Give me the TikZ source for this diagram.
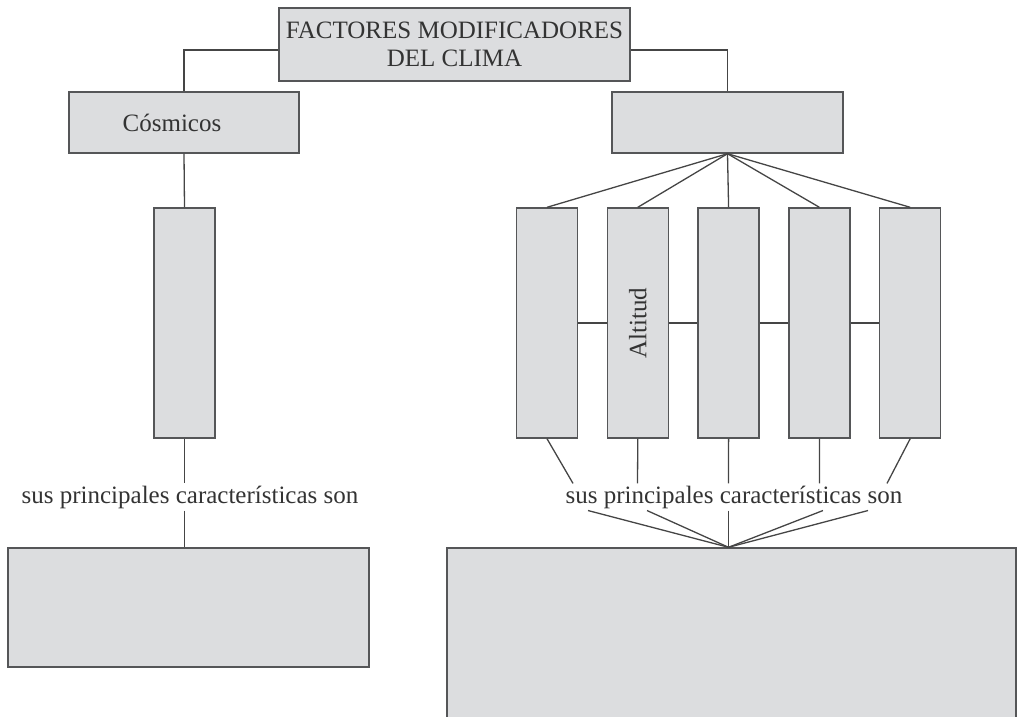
\documentclass[tikz,border=0pt]{standalone}
\usepackage{fontspec}
\setmainfont{Liberation Serif}
\usepackage{graphicx}
\usepackage{xcolor}
\usepackage{tikz}
\usetikzlibrary{positioning}
\definecolor{boxgray}{HTML}{DCDDDF}
\definecolor{edgegray}{HTML}{555658}
\definecolor{linkgray}{HTML}{454545}
\definecolor{inkgray}{HTML}{333333}
\tikzset{
    link/.style={draw=linkgray, line width=1.3pt},
    box/.style={draw=edgegray, line width=1.4pt, fill=boxgray, rectangle, inner sep=0pt, align=center, text=inkgray, font=\fontsize{25}{28.5}\selectfont},
    tallbox/.style={box, minimum width=61pt, minimum height=230pt},
    captext/.style={inner sep=2pt, anchor=base, text=inkgray, font=\fontsize{25}{28.5}\selectfont}
}

\begin{document}
\begin{tikzpicture}[x=1pt, y=-1pt]
    \useasboundingbox (0,0) rectangle (1018,717);
    \clip (0,0) rectangle (1018,717);
    % top and first level
    \node (top) [box, minimum width=351pt, minimum height=73pt] at (454.5,44.5) {FACTORES MODIFICADORES\\DEL CLIMA};
    \node (cos) [box, minimum width=230pt, minimum height=61pt] at (184,122.5) {Cósmicos\hspace*{24pt}};
    \node (rfac) [box, minimum width=231pt, minimum height=61pt] at (727.5,122.5) {};
    % tall boxes
    \node (lt) [tallbox] at (184.5,323) {};
    \node (t1) [tallbox] at (547,323) {};
    \node (t2) [tallbox, right=28.4pt of t1] {\rotatebox{90}{Altitud}};
    \node (t3) [tallbox, right=28.4pt of t2] {};
    \node (t4) [tallbox, right=28.4pt of t3] {};
    \node (t5) [tallbox, right=28.4pt of t4] {};
    % texts and bottom boxes
    \node (lsus) [captext] at (190,503) {sus principales características son};
    \node (rsus) [captext] at (734,503) {sus principales características son};
    \node (lbox) [box, minimum width=361pt, minimum height=119pt] at (188.5,607.5) {};
    \node (rbox) [box, minimum width=569pt, minimum height=192pt] at (731.5,644) {};
    \coordinate (u1) at (573,0 |- rsus.north);
    \coordinate (u2) at (637.5,0 |- rsus.north);
    \coordinate (u3) at (728.5,0 |- rsus.north);
    \coordinate (u4) at (819.5,0 |- rsus.north);
    \coordinate (u5) at (887,0 |- rsus.north);
    \coordinate (d1) at (588,0 |- rsus.south);
    \coordinate (d2) at (647,0 |- rsus.south);
    \coordinate (d3) at (728.5,0 |- rsus.south);
    \coordinate (d4) at (823,0 |- rsus.south);
    \coordinate (d5) at (868,0 |- rsus.south);
    \coordinate (apex) at (728.5,0 |- rbox.north);
    % connectors
    \draw [link] ([yshift=-5.5pt]top.west) -| (cos.north);
    \draw [link] ([yshift=-5.5pt]top.east) -| (rfac.north);
    \draw [link] (cos.south) -- (lt.north);
    \draw [link] (lt.south) -- (lt.south |- lsus.north);
    \draw [link] (lt.south |- lsus.south) -- (lt.south |- lbox.north);
    \draw [link] (rfac.south) -- (t1.north);
    \draw [link] (rfac.south) -- (t2.north);
    \draw [link] (rfac.south) -- (t3.north);
    \draw [link] (rfac.south) -- (t4.north);
    \draw [link] (rfac.south) -- (t5.north);
    \draw [link] (t1.east) -- (t2.west);
    \draw [link] (t2.east) -- (t3.west);
    \draw [link] (t3.east) -- (t4.west);
    \draw [link] (t4.east) -- (t5.west);
    \draw [link] (t1.south) -- (u1);
    \draw [link] (t2.south) -- (u2);
    \draw [link] (t3.south) -- (u3);
    \draw [link] (t4.south) -- (u4);
    \draw [link] (t5.south) -- (u5);
    \draw [link] (d1) -- (apex);
    \draw [link] (d2) -- (apex);
    \draw [link] (d3) -- (apex);
    \draw [link] (d4) -- (apex);
    \draw [link] (d5) -- (apex);
\end{tikzpicture}
\end{document}
